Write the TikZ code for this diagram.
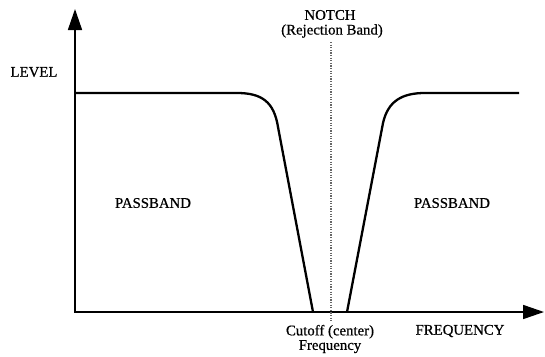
\documentclass[tikz,border=0pt]{standalone}
\usepackage{fontspec}
\setmainfont{Liberation Serif}
\newfontfamily\lblfont[FakeBold=0.6]{Liberation Serif}
\usepackage{tikz}
\usetikzlibrary{arrows.meta,positioning}

\begin{document}
\begin{tikzpicture}[x=1pt,y=-1pt,
    axis/.style={line width=1.6pt,-{Triangle[length=21pt,width=14pt]}},
    curve/.style={line width=2.3pt,line join=round},
    lbl/.style={font=\lblfont\fontsize{14.8}{16}\selectfont,align=center,inner sep=0pt}]
        \useasboundingbox (0,0) rectangle (545,356);
        \coordinate (o) at (75,312);
        \draw[axis] (o) -- (75,9) coordinate (ytip);
        \draw[axis] ([xshift=-0.8pt]o) -- (544,312) coordinate (xtip);
        % notch centre
        \draw[gray!80!black,line width=1.2pt,dash pattern=on 1.2pt off 1.4pt] (331,42) -- (331,322);
        % response
        \draw[curve] (75,93) -- (237,93) .. controls (262,93) and (274,102) .. (278,127) -- (313,312);
        \draw[curve] (347,312) -- (383,123) .. controls (388,101) and (402,93) .. (425,93) -- (519,93);
        \node[lbl] (level) at (34,72) {LEVEL};
        \node[lbl] (notch) at (330,15) {NOTCH};
        \node[lbl] (rej) at (332,31) {(Rejection Band)};
        \node[lbl] (passl) at (153,203) {PASSBAND};
        \node[lbl] (passr) at (452,203) {PASSBAND};
        \node[lbl] (cut) at (330,339) {Cutoff (center)\\[-1.5pt]Frequency};
        \node[lbl] (freq) at (460,331) {FREQUENCY};
    \end{tikzpicture}
\end{document}
